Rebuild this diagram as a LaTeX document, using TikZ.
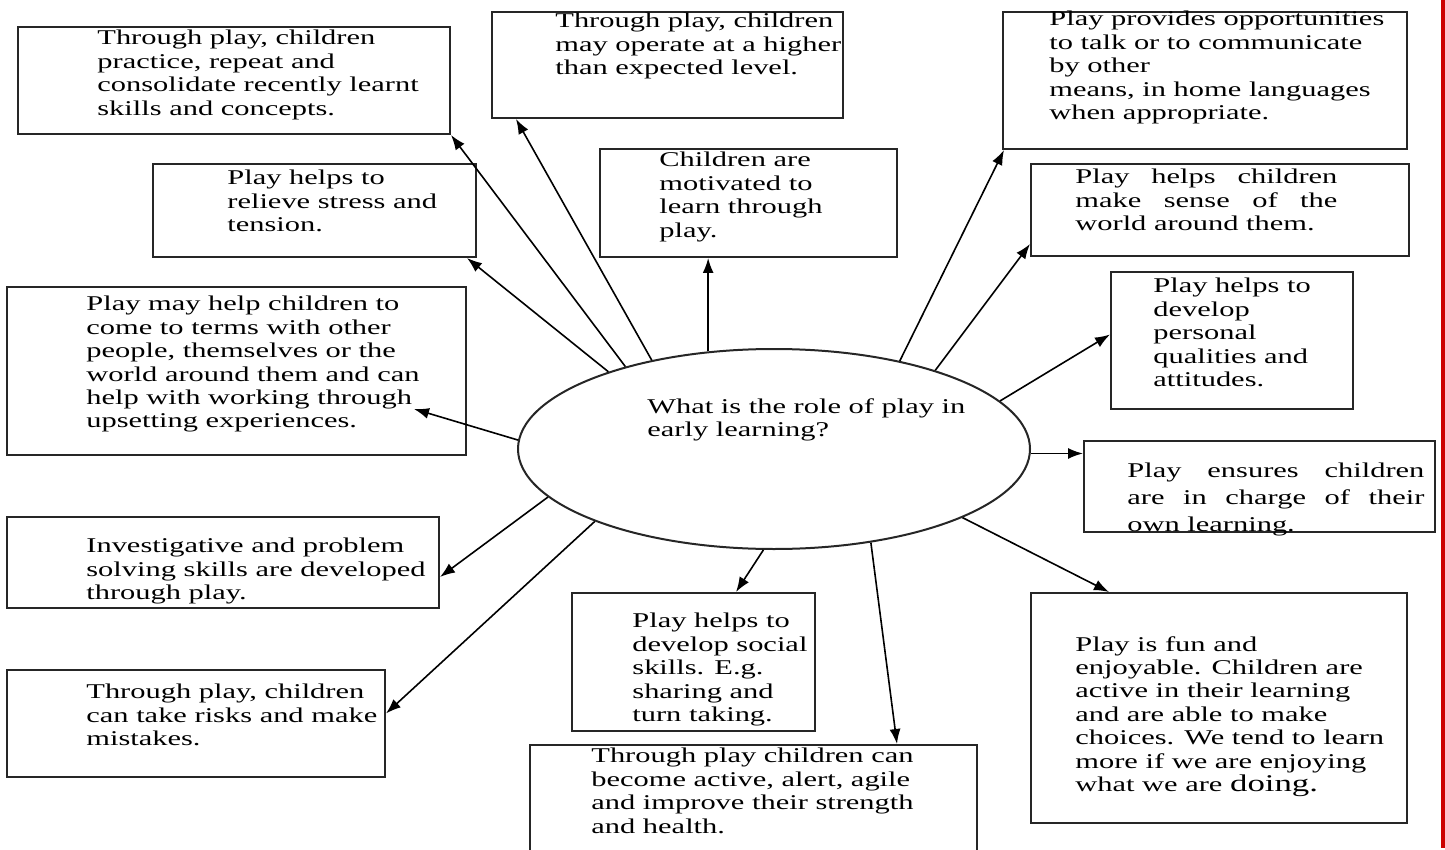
\documentclass[tikz,border=0pt]{standalone}
\usepackage{fontspec}
\newfontfamily\playfont{Liberation Serif}[FakeStretch=1.45]
\usetikzlibrary{shapes.geometric,arrows.meta,calc}

\begin{document}
\begin{tikzpicture}[x=0.5pt,y=-0.5pt,
  box/.style={draw=black!85,line width=1pt,rectangle,inner sep=0pt},
  txt/.style={font=\playfont\fontsize{10.5pt}{11.7pt}\selectfont,align=left,anchor=north west,inner sep=0pt},
  arr/.style={-{Latex[length=7.5pt,width=5.5pt]},line width=0.8pt}]
\useasboundingbox (0,0) rectangle (1445,850);

% Centre question
\node[draw=black!85,line width=1pt,ellipse,inner sep=0pt,minimum width=256pt,minimum height=100pt] (role) at (774,449) {};
\node[txt] (roletext) at (647,398) {What is the role of play in\\early learning?};

% Boxes on the left
\node[box,minimum width=216pt,minimum height=53.5pt] (practice) at (234,80.5) {};
\node[txt] at (97,30) {Through play, children\\practice, repeat and\\consolidate recently learnt\\skills and concepts.};

\node[box,minimum width=161.5pt,minimum height=46.5pt] (stress) at (314.5,210.5) {};
\node[txt] at (227,170) {Play helps to\\relieve stress and\\tension.};

\node[box,minimum width=229.5pt,minimum height=84pt] (terms) at (236.5,371) {};
\node[txt] at (86,296) {Play may help children to\\come to terms with other\\people, themselves or the\\world around them and can\\help with working through\\upsetting experiences.};

\node[box,minimum width=216pt,minimum height=45.5pt] (problem) at (223,562.5) {};
\node[txt] at (86,538) {Investigative and problem\\solving skills are developed\\through play.};

\node[box,minimum width=189pt,minimum height=53.5pt] (risks) at (196,723.5) {};
\node[txt] at (86,684) {Through play, children\\can take risks and make\\mistakes.};

% Boxes at the top
\node[box,minimum width=175.5pt,minimum height=53pt] (higher) at (667.5,65) {};
\node[txt] at (555,13) {Through play, children\\may operate at a higher\\than expected level.};

\node[box,minimum width=148.5pt,minimum height=54pt] (motivated) at (748.5,203) {};
\node[txt] at (659,152) {Children are\\motivated to\\learn through\\play.};

% Boxes on the right
\node[box,minimum width=202pt,minimum height=68.5pt] (talk) at (1205,80.5) {};
\node[txt] at (1049,11) {Play provides opportunities\\to talk or to communicate\\by other\\means, in home languages\\when appropriate.};

\node[box,minimum width=189pt,minimum height=46pt] (sense) at (1220,210) {};
\node[txt] at (1075,169) {\makebox[131pt][s]{Play helps children}\\\makebox[131pt][s]{make sense of the}\\world around them.};

\node[box,minimum width=121pt,minimum height=68.5pt] (personal) at (1232,340.5) {};
\node[txt] at (1153,278) {Play helps to\\develop\\personal\\qualities and\\attitudes.};

\node[box,minimum width=175.5pt,minimum height=45.5pt] (charge) at (1259.5,486.5) {};
\node[txt,font=\playfont\fontsize{10.5pt}{13.35pt}\selectfont] at (1127,463) {\makebox[148.5pt][s]{Play ensures children}\\\makebox[148.5pt][s]{are in charge of their}\\own learning.};

\node[box,minimum width=188pt,minimum height=115pt] (fun) at (1219,708) {};
\node[txt] at (1075,636) {Play is fun and\\enjoyable. Children are\\active in their learning\\and are able to make\\choices. We tend to learn\\more if we are enjoying\\what we are {\fontsize{12pt}{11.7pt}\selectfont doing.}};

% Boxes at the bottom
\node[box,minimum width=121.5pt,minimum height=69pt] (social) at (693.5,662) {};
\node[txt] at (632,613) {Play helps to\\develop social\\skills. E.g.\\sharing and\\turn taking.};

\node[box,minimum width=223.5pt,minimum height=57.5pt] (health) at (753.5,802.5) {};
\node[txt] at (591,748) {Through play children can\\become active, alert, agile\\and improve their strength\\and health.};

% Arrows from the question
\draw[arr] (role.155.1) -- ($(stress.south east)+(-10,0)$);
\draw[arr] (role.151) -- (practice.south east);
\draw[arr] (role.144) -- ($(higher.south west)+(25,0)$);
\draw[arr] (role.124.8) -- (role.124.8 |- motivated.south);
\draw[arr] (role.35.1) -- ($(talk.south west)+(2,0)$);
\draw[arr] (role.26.7) -- ($(sense.south west)+(0,-13)$);
\draw[arr] (role.12.9) -- ($(personal.west)+(0,-6)$);
\draw[arr] (role.-1.35) -- (role.-1.35 -| charge.west);
\draw[arr] (role.-20.9) -- ($(fun.north west)+(79,0)$);
\draw[arr] (role.-44.4) -- ($(health.north east)+(-81,0)$);
\draw[arr] (role.-96.8) -- ($(social.north west)+(165,0)$);
\draw[arr] (role.202) -- ($(risks.east)+(0,-10)$);
\draw[arr] (role.192.4) -- ($(problem.east)+(0,14.5)$);
\draw[arr] (role.178) -- ($(terms.north east)+(-53,123)$);

% Page edge
\fill[red!80!black] (1441,0) rectangle (1445,848);
\end{tikzpicture}
\end{document}
